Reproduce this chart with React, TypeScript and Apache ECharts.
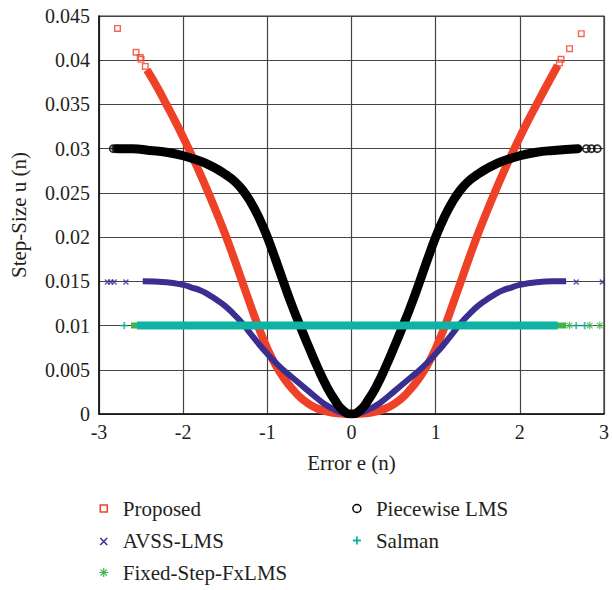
import React, { useEffect, useRef } from "react";
import * as echarts from "echarts";

// Step-size curves, [error e(n), step-size u(n)]
const proposedCurve: [number, number][] = [
  [-2.43, 0.0389], [-2.3, 0.0368], [-2.2, 0.035], [-2.1, 0.0332], [-2.0, 0.0313],
  [-1.9, 0.0293], [-1.8, 0.0272], [-1.7, 0.025], [-1.6, 0.0227], [-1.5, 0.0203],
  [-1.4, 0.0177], [-1.3, 0.015], [-1.2, 0.0123], [-1.1, 0.0097], [-1.0, 0.0074],
  [-0.9, 0.0055], [-0.8, 0.004], [-0.7, 0.0028], [-0.6, 0.0018], [-0.5, 0.0011],
  [-0.4, 0.0006], [-0.3, 0.0003], [-0.2, 0.0001], [0, 0], [0.2, 0.0001],
  [0.3, 0.0003], [0.4, 0.0006], [0.5, 0.0011], [0.6, 0.0018], [0.7, 0.0028],
  [0.8, 0.004], [0.9, 0.0055], [1.0, 0.0074], [1.1, 0.0097], [1.2, 0.0123],
  [1.3, 0.015], [1.4, 0.0177], [1.5, 0.0203], [1.6, 0.0227], [1.7, 0.025],
  [1.8, 0.0272], [1.9, 0.0293], [2.0, 0.0313], [2.1, 0.0332], [2.2, 0.035],
  [2.3, 0.0368], [2.45, 0.0394],
];
const proposedSparse: [number, number][] = [
  [-2.78, 0.0436], [-2.56, 0.0409], [-2.51, 0.0403], [-2.5, 0.0401], [-2.45, 0.0393],
  [2.47, 0.0397], [2.49, 0.0401], [2.59, 0.0413], [2.73, 0.043],
];

const piecewiseCurve: [number, number][] = [
  [-2.78, 0.03], [-2.6, 0.03], [-2.4, 0.0298], [-2.2, 0.0296], [-2.0, 0.0292],
  [-1.8, 0.0286], [-1.7, 0.0282], [-1.6, 0.0277], [-1.5, 0.0271], [-1.4, 0.0264],
  [-1.3, 0.0254], [-1.2, 0.024], [-1.1, 0.0222], [-1.0, 0.02], [-0.9, 0.0174],
  [-0.8, 0.0147], [-0.7, 0.0121], [-0.6, 0.0097], [-0.5, 0.0074], [-0.4, 0.0052],
  [-0.3, 0.0032], [-0.2, 0.0016], [-0.1, 0.0004], [0, 0], [0.1, 0.0004],
  [0.2, 0.0016], [0.3, 0.0032], [0.4, 0.0052], [0.5, 0.0074], [0.6, 0.0097],
  [0.7, 0.0121], [0.8, 0.0147], [0.9, 0.0174], [1.0, 0.02], [1.1, 0.0222],
  [1.2, 0.024], [1.3, 0.0254], [1.4, 0.0264], [1.5, 0.0271], [1.6, 0.0277],
  [1.7, 0.0282], [1.8, 0.0286], [2.0, 0.0292], [2.2, 0.0296], [2.4, 0.0298],
  [2.69, 0.03],
];
const piecewiseSparse: [number, number][] = [
  [-2.83, 0.03], [-2.8, 0.03], [2.79, 0.03], [2.85, 0.03], [2.92, 0.03],
];

const avssCurve: [number, number][] = [
  [-2.48, 0.015], [-2.2, 0.0149], [-2.0, 0.0146], [-1.9, 0.0143], [-1.8, 0.014],
  [-1.7, 0.0135], [-1.6, 0.0129], [-1.5, 0.0122], [-1.4, 0.0113], [-1.3, 0.0103],
  [-1.2, 0.0091], [-1.1, 0.0079], [-1.0, 0.0068], [-0.9, 0.0058], [-0.8, 0.0049],
  [-0.7, 0.0041], [-0.6, 0.0033], [-0.5, 0.0025], [-0.4, 0.0017], [-0.3, 0.001],
  [-0.2, 0.0005], [-0.1, 0.0001], [0, 0], [0.1, 0.0001], [0.2, 0.0005],
  [0.3, 0.001], [0.4, 0.0017], [0.5, 0.0025], [0.6, 0.0033], [0.7, 0.0041],
  [0.8, 0.0049], [0.9, 0.0058], [1.0, 0.0068], [1.1, 0.0079], [1.2, 0.0091],
  [1.3, 0.0103], [1.4, 0.0113], [1.5, 0.0122], [1.6, 0.0129], [1.7, 0.0135],
  [1.8, 0.014], [1.9, 0.0143], [2.0, 0.0146], [2.2, 0.0149], [2.4, 0.015],
  [2.55, 0.015],
];
const avssSparse: [number, number][] = [
  [-2.9, 0.015], [-2.86, 0.015], [-2.82, 0.015], [-2.68, 0.015], [2.67, 0.015], [2.98, 0.015],
];

const salmanCurve: [number, number][] = [[-2.55, 0.01], [2.45, 0.01]];
const salmanSparse: [number, number][] = [[-2.7, 0.01], [2.67, 0.01], [2.77, 0.01]];

const fixedCurve: [number, number][] = [[-2.62, 0.01], [2.55, 0.01]];
const fixedSparse: [number, number][] = [[2.59, 0.01], [2.83, 0.01], [2.95, 0.01]];

const RED = "#EE4128";
const BLUE = "#3A2E91";
const BLACK = "#000000";
const TEAL = "#0FB3A4";
const GREEN = "#3DB54B";
const TEXT = "#231F20";
const FONT = "Liberation Serif";

// glyph paths; the leading moves fix each glyph's 10x10 frame
const SQUARE = "path://M0,0 M10,10 M1.5,1.5 L8.5,1.5 L8.5,8.5 L1.5,8.5 Z";
const CIRCLE = "path://M0,0 M10,10 M9,5 A4,4 0 1 1 1,5 A4,4 0 1 1 9,5 Z";
const CROSS = "path://M0,0 M10,10 M1.5,2.5 L8.5,9.5 M8.5,2.5 L1.5,9.5";
const PLUS = "path://M0,0 M10,10 M5,1 L5,9 M1,5 L9,5";
const STAR = "path://M0,0 M10,10 M5,0.5 L5,9.5 M0.5,5 L9.5,5 M1.8,1.8 L8.2,8.2 M8.2,1.8 L1.8,8.2";

const hollow = (c: string, w = 1.5) => ({ color: "rgba(0,0,0,0)", borderColor: c, borderWidth: w });

function curve(name: string, data: [number, number][], color: string, width: number, cap: "butt" | "round") {
  return {
    name,
    type: "line",
    data,
    smooth: 0.5,
    showSymbol: false,
    symbol: "none",
    silent: true,
    lineStyle: { color, width, cap, join: "round" },
    itemStyle: { color },
  };
}

function sparse(name: string, data: [number, number][], symbol: string, size: number, color: string, w = 1.5) {
  return {
    name,
    type: "scatter",
    data,
    symbol,
    symbolSize: size,
    silent: true,
    itemStyle: hollow(color, w),
  };
}

const legendText = { fontFamily: FONT, fontSize: 21, color: TEXT, lineHeight: 20, padding: [0, 0, 0, 9] };

export default function App() {
  const ref = useRef<HTMLDivElement>(null);
  useEffect(() => {
    if (!ref.current) return;
    const chart = echarts.init(ref.current, undefined, { renderer: "svg" });
    chart.setOption({
      animation: false,
      backgroundColor: "#ffffff",
      grid: { left: 98, right: 6, top: 16, bottom: 176, show: true, borderColor: "#333", borderWidth: 1.2 },
      xAxis: {
        type: "value",
        min: -3,
        max: 3,
        interval: 1,
        name: "Error e (n)",
        nameLocation: "middle",
        nameGap: 38,
        nameTextStyle: { fontFamily: FONT, fontSize: 21, color: TEXT },
        axisLine: { lineStyle: { color: "#111", width: 1.5 } },
        axisTick: { show: false },
        axisLabel: { fontFamily: FONT, fontSize: 20, color: TEXT, margin: 8 },
        splitLine: { lineStyle: { color: "#444", width: 1.2 } },
      },
      yAxis: {
        type: "value",
        min: 0,
        max: 0.045,
        interval: 0.005,
        name: "Step-Size u (n)",
        nameLocation: "middle",
        nameGap: 70,
        nameTextStyle: { fontFamily: FONT, fontSize: 21, color: TEXT },
        axisLine: { show: true, onZero: false, lineStyle: { color: "#111", width: 1.5 } },
        axisTick: { show: false },
        axisLabel: { fontFamily: FONT, fontSize: 20, color: TEXT, margin: 9 },
        splitLine: { lineStyle: { color: "#444", width: 1.2 } },
      },
      legend: [
        {
          orient: "vertical",
          left: 98,
          top: 498,
          height: 92,
          padding: 0,
          itemWidth: 10,
          itemHeight: 10,
          itemGap: 11,
          textStyle: legendText,
          data: [
            { name: "Proposed", icon: SQUARE, itemStyle: hollow(RED, 1.5) },
            { name: "AVSS-LMS", icon: CROSS, itemStyle: hollow(BLUE, 1.5) },
            { name: "Fixed-Step-FxLMS", icon: STAR, itemStyle: hollow(GREEN, 1.2) },
          ],
        },
        {
          orient: "vertical",
          left: 351,
          top: 498,
          height: 92,
          padding: 0,
          itemWidth: 10,
          itemHeight: 10,
          itemGap: 11,
          textStyle: legendText,
          data: [
            { name: "Piecewise LMS", icon: CIRCLE, itemStyle: hollow(BLACK, 1.5) },
            { name: "Salman", icon: PLUS, itemStyle: hollow(TEAL, 1.8) },
          ],
        },
      ],
      series: [
        curve("Proposed", proposedCurve, RED, 8, "butt"),
        sparse("Proposed", proposedSparse, SQUARE, 8, RED, 1.4),
        curve("AVSS-LMS", avssCurve, BLUE, 6, "butt"),
        sparse("AVSS-LMS", avssSparse, CROSS, 7, BLUE, 1.5),
        curve("Piecewise LMS", piecewiseCurve, BLACK, 9, "round"),
        sparse("Piecewise LMS", piecewiseSparse, CIRCLE, 9, BLACK, 1.8),
        curve("Fixed-Step-FxLMS", fixedCurve, GREEN, 6, "butt"),
        sparse("Fixed-Step-FxLMS", fixedSparse, STAR, 9, GREEN, 1.2),
        curve("Salman", salmanCurve, TEAL, 8, "butt"),
        sparse("Salman", salmanSparse, PLUS, 9, TEAL, 1.8),
      ],
    });
    return () => chart.dispose();
  }, []);
  return <div ref={ref} style={{ position: "fixed", left: 0, top: 0, width: 612, height: 590 }} />;
}
